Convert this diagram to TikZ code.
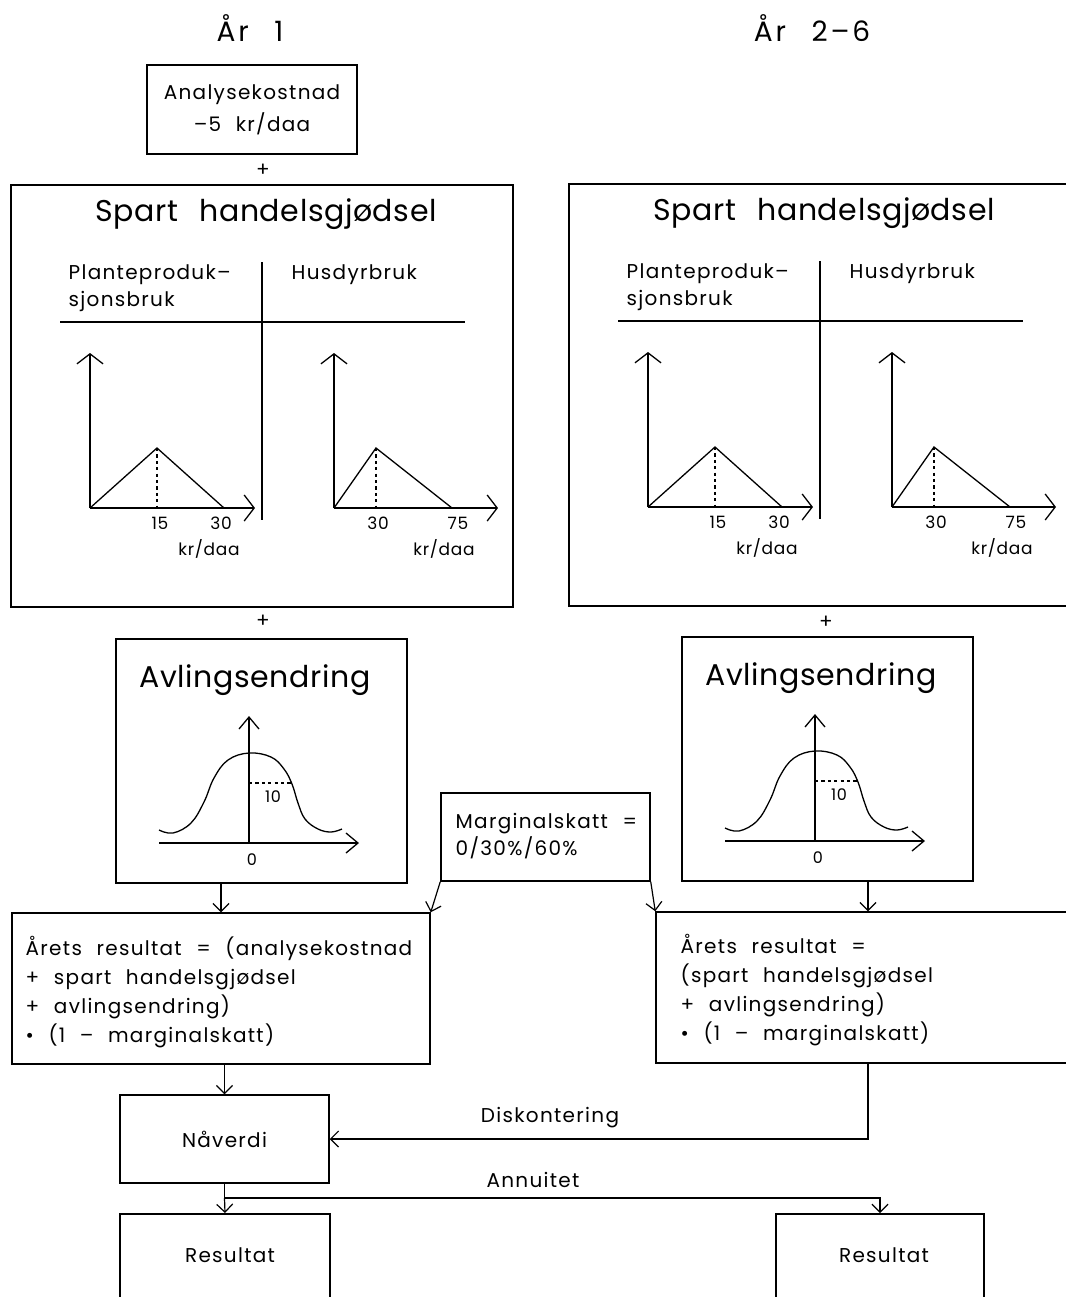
\documentclass[tikz,border=0pt]{standalone}
\usepackage{fontspec}
\setmainfont{Poppins}
\newfontfamily\bodyfont{Poppins}[LetterSpace=6.5, WordSpace=2.2]
\newfontfamily\headfont{Poppins}[LetterSpace=2, WordSpace=2.5]
\newfontfamily\yearfont{Poppins}[LetterSpace=10, WordSpace=2.5]
\newfontfamily\axisfont{Poppins}[LetterSpace=4]
\usetikzlibrary{arrows.meta,calc}

\tikzset{
  box/.style={draw, line width=0.75pt, inner sep=0pt},
  bodytxt/.style={inner sep=0pt, font=\bodyfont\fontsize{10}{14.5}\selectfont},
  titletxt/.style={inner sep=0pt, font=\headfont\fontsize{15}{18}\selectfont},
  yeartxt/.style={inner sep=0pt, font=\yearfont\fontsize{14}{17}\selectfont},
  axistxt/.style={inner sep=0pt, font=\axisfont\fontsize{8.5}{10}\selectfont},
  axis/.style={line width=0.65pt, -{Straight Barb[length=5pt,width=13pt]}},
  bellaxis/.style={line width=0.65pt, -{Straight Barb[length=6pt,width=10pt]}},
  curve/.style={line width=0.65pt},
  guide/.style={line width=0.6pt, dash pattern=on 1.6pt off 1.6pt},
  flow/.style={line width=0.6pt, -{Straight Barb[length=4pt,width=8pt]}},
  flowline/.style={line width=0.6pt},
  % panel with the two fertiliser saving charts
  fertpanel/.pic={
    \node[box, minimum width=251pt, minimum height=211pt, anchor=north west] (-box) at (0,0) {};
    \node[titletxt] (-title) at (256,30) {Spart handelsgjødsel};
    \node[bodytxt, anchor=north west, align=left, font=\bodyfont\fontsize{10}{13.5}\selectfont] (-plant) at (58,80) {Planteproduk–\\sjonsbruk};
    \node[bodytxt, anchor=north west] (-husdyr) at (281,80) {Husdyrbruk};
    \draw[line width=0.7pt] (252,78) -- (252,336);
    \draw[line width=0.7pt] (50,138) -- (455,138);
    % plant production chart
    \coordinate (-o1) at (80,324);
    \draw[axis] (-o1) -- (80,169);
    \draw[axis] (-o1) -- (245,324);
    \draw[curve] (-o1) -- (147,264) -- (214,324);
    \draw[guide] (147,264) -- (147,324);
    \node[axistxt] (-a15) at (150,339) {15};
    \node[axistxt] (-a30) at (211,339) {30};
    \node[axistxt] (-au1) at (199,365) {kr/daa};
    % livestock chart
    \coordinate (-o2) at (324,324);
    \draw[axis] (-o2) -- (324,169);
    \draw[axis] (-o2) -- (488,324);
    \draw[curve] (-o2) -- (366,264) -- (442,324);
    \draw[guide] (366,264) -- (366,324);
    \node[axistxt] (-b30) at (368,339) {30};
    \node[axistxt] (-b75) at (448,339) {75};
    \node[axistxt] (-au2) at (434,365) {kr/daa};
  },
  % panel with the yield change curve
  yieldpanel/.pic={
    \node[box, minimum width=145.5pt, minimum height=122pt, anchor=north west] (-box) at (0,0) {};
    \node[titletxt] (-title) at (140,42) {Avlingsendring};
    \draw[bellaxis] (134,205) -- (134,78);
    \draw[bellaxis] (44,205) -- (244,205);
    \draw[curve] plot[smooth, tension=0.65] coordinates {(44,192) (58,195) (76,185) (89,164) (99,140) (113,122) (134,115) (156,119) (169,131) (177,146) (183,165) (190,181) (203,191) (216,194) (227,191)};
    \draw[guide] (134,145) -- (177,145);
    \node[axistxt, font=\axisfont\fontsize{8}{10}\selectfont] (-ten) at (158,159) {10};
    \node[axistxt, font=\axisfont\fontsize{8}{10}\selectfont] (-zero) at (137,222) {0};
  }
}

\begin{document}
\begin{tikzpicture}[x=0.5pt, y=-0.5pt, line width=0.7pt]
  \useasboundingbox (0,0) rectangle (1066,1297);

  % column headings
  \node[yeartxt] (yr1) at (250,28) {År 1};
  \node[yeartxt] (yr2) at (812,28) {År 2–6};

  % analysis cost
  \node[box, minimum width=105pt, minimum height=44.5pt, align=center, bodytxt, font=\bodyfont\fontsize{10}{16}\selectfont] (cost) at (252,109.5) {Analysekostnad\\–5 kr/daa};
  \node[bodytxt] (plus0) at (263,170) {+};

  % saved fertiliser
  \pic (s1) at (10,184) {fertpanel};
  \pic (s2) at (568,183) {fertpanel};

  \node[bodytxt] (plus1) at (263,621) {+};
  \node[bodytxt] (plus2) at (826,622) {+};

  % yield change
  \pic (v1) at (115,638) {yieldpanel};
  \pic (v2) at (681,636) {yieldpanel};

  % marginal tax
  \node[box, minimum width=104.5pt, minimum height=44pt] (marg) at (545.5,837) {};
  \node[bodytxt, align=left, anchor=west, font=\bodyfont\fontsize{10}{13.5}\selectfont] (margt) at (455,836) {Marginalskatt =\\0/30\%/60\%};

  % annual results
  \node[box, minimum width=209pt, minimum height=75.5pt] (ar1) at (221,988.5) {};
  \node[bodytxt, align=left, anchor=west] (ar1t) at (25,992) {Årets resultat = (analysekostnad\\+ spart handelsgjødsel\\+ avlingsendring)\\• (1 – marginalskatt)};
  \node[box, minimum width=212pt, minimum height=75.5pt] (ar2) at (868,987.5) {};
  \node[bodytxt, align=left, anchor=west] (ar2t) at (680,990) {Årets resultat =\\(spart handelsgjødsel\\+ avlingsendring)\\• (1 – marginalskatt)};

  % present value and results
  \node[box, minimum width=104.5pt, minimum height=44pt, bodytxt] (nv) at (224.5,1139) {Nåverdi};
  \node[box, minimum width=105pt, minimum height=60pt, anchor=north] (res1) at (225,1213) {};
  \node[bodytxt] (res1t) at (230,1255) {Resultat};
  \node[box, minimum width=104pt, minimum height=60pt, anchor=north] (res2) at (880,1213) {};
  \node[bodytxt] (res2t) at (884,1255) {Resultat};

  % connectors
  \draw[flow] (v1-box.south -| ar1.north) -- (ar1.north);
  \draw[flow] (v2-box.south -| ar2.north) -- (ar2.north);
  \draw[flow] (marg.south west) -- (ar1.north east);
  \draw[flow] (marg.south east) -- (ar2.north west);
  \draw[flow] (nv.north |- ar1.south) -- (nv.north);
  \draw[flow] (ar2.south) |- (nv.east);
  \node[bodytxt] (disk) at (550,1118) {Diskontering};

  \coordinate (split) at (nv.south |- 0,1198);
  \draw[flowline] (nv.south) -- (split);
  \draw[flow] (split) -- (res1.north);
  \draw[flow] (split) -| (res2.north);
  \node[bodytxt] (ann) at (533,1180) {Annuitet};
\end{tikzpicture}
\end{document}
